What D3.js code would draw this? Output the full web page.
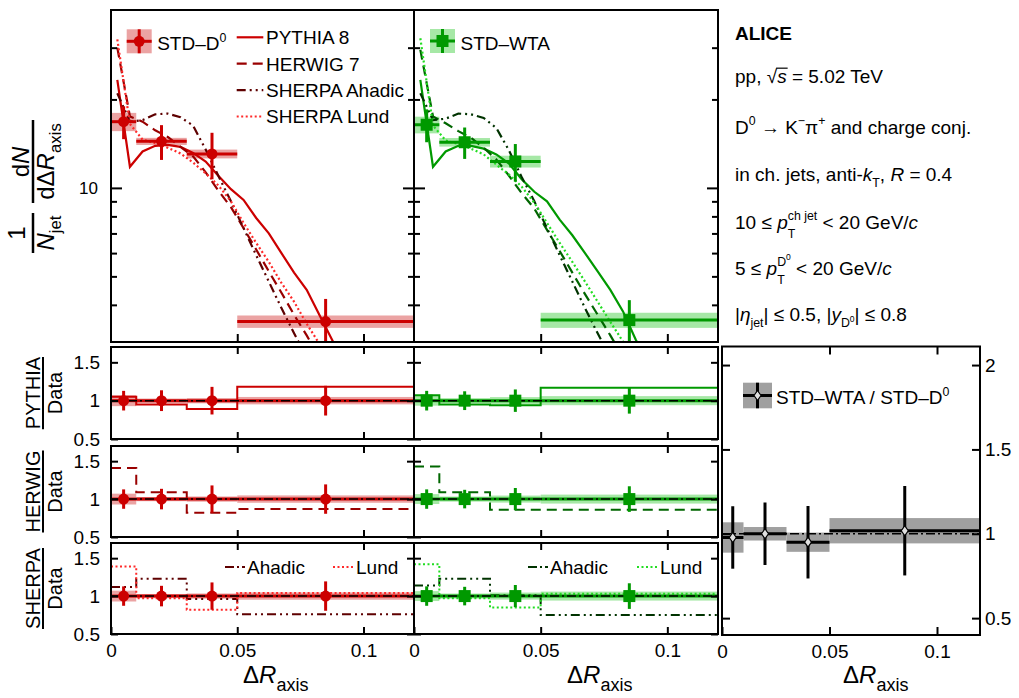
<!DOCTYPE html>
<html lang="en">
<head>
<meta charset="UTF-8">
<title>D0 jet axis differences</title>
<script src="https://cdnjs.cloudflare.com/ajax/libs/d3/7.8.5/d3.min.js"></script>
<style>
  body { margin: 0; background: #fff; }
  svg { font-family: "Liberation Sans", Arial, Helvetica, sans-serif; }
  svg text { white-space: pre; }
</style>
</head>
<body>
<div id="chart"></div>
<script>
// ---- data ----
var binEdges = [0, 0.01, 0.03, 0.05, 0.12];
var binCenters = [0.005, 0.02, 0.04, 0.085];

var d0Val = [16.8, 14.4, 13.05, 3.51];
var d0Stat = [2.15, 1.95, 2.35, 0.68];
var d0Sys = [1.2, 0.4, 0.45, 0.17];

var wtaVal = [16.4, 14.3, 12.3, 3.55];
var wtaStat = [2.1, 1.75, 1.8, 0.6];
var wtaSys = [1.07, 0.48, 0.57, 0.21];

var mcX = [0.0025, 0.0075, 0.0125, 0.0175, 0.0225, 0.0275, 0.0325, 0.0375, 0.0425, 0.0475,
           0.0525, 0.0575, 0.0625, 0.0675, 0.0725, 0.0775, 0.0825, 0.0875, 0.0925];

var pythiaD0 = [23.3, 11.8, 13.3, 13.9, 14.0, 13.8, 13.15, 12.3, 11.0, 9.9, 9.1, 7.9, 7.0, 6.0, 5.15, 4.5, 3.7, 3.05, 2.5];
var herwigD0 = [30.0, 17.5, 16.8, 15.7, 14.9, 13.8, 12.8, 11.3, 9.8, 8.6, 7.3, 6.17, 5.2, 4.4, 3.7, 3.15, 2.65, 2.3, 2.0];
var ahadicD0 = [21.0, 16.8, 17.0, 17.8, 17.9, 17.4, 16.3, 13.5, 11.0, 9.0, 7.3, 5.9, 4.8, 3.9, 3.2, 2.65, 2.2, 1.8, 1.5];
var lundD0 = [32.0, 16.5, 14.6, 14.2, 13.7, 13.1, 12.2, 11.2, 10.2, 9.0, 7.6, 6.5, 5.6, 4.75, 4.1, 3.45, 2.95, 2.5, 2.1];

var pythiaWTA = [23.3, 11.8, 13.3, 13.9, 13.9, 13.6, 13.0, 12.1, 10.7, 9.7, 9.0, 7.8, 6.9, 6.0, 5.2, 4.5, 3.8, 3.05, 2.5];
var herwigWTA = [29.5, 17.5, 16.6, 15.6, 14.8, 13.7, 12.5, 11.0, 9.6, 8.5, 7.2, 6.1, 5.15, 4.35, 3.7, 3.15, 2.65, 2.3, 2.0];
var ahadicWTA = [21.0, 17.0, 17.2, 17.9, 17.8, 17.3, 16.0, 13.4, 10.9, 9.0, 7.3, 5.9, 4.8, 3.9, 3.2, 2.65, 2.2, 1.8, 1.5];
var lundWTA = [32.3, 16.3, 14.5, 14.1, 13.6, 13.0, 12.0, 11.1, 10.1, 8.9, 7.6, 6.5, 5.6, 4.8, 4.1, 3.5, 3.0, 2.5, 2.1];

// MC / data ratios per data bin
var pythiaRatioD0 = [1.05, 0.95, 0.89, 1.18];
var herwigRatioD0 = [1.41, 1.09, 0.82, 0.87];
var ahadicRatioD0 = [1.12, 1.23, 0.96, 0.76];
var lundRatioD0 = [1.39, 0.97, 0.82, 1.04];
var pythiaRatioWTA = [1.07, 0.95, 0.94, 1.17];
var herwigRatioWTA = [1.43, 1.09, 0.86, 0.86];
var ahadicRatioWTA = [1.14, 1.23, 1.01, 0.75];
var lundRatioWTA = [1.42, 0.97, 0.85, 1.03];

// STD-WTA / STD-D0
var wtaOverD0 = [0.978, 1.0, 0.95, 1.018];
var wtaOverD0Stat = [0.185, 0.185, 0.215, 0.265];
var wtaOverD0Sys = [0.09, 0.04, 0.057, 0.075];

var xTicks = [0, 0.05, 0.1];
var ratioTicks = [0.5, 1, 1.5];
var rightTicks = [0.5, 1, 1.5, 2];
var logMinor = [4, 5, 6, 7, 8, 9, 20, 30];

// ---- styles ----
var red = "#cc0000", redBox = "#eba3a3", redHerwig = "#990000", redAhadic = "#5e0000", redLund = "#ff2a2a";
var green = "#009900", greenBox = "#a6e8a6", greenHerwig = "#006600", greenAhadic = "#003300", greenLund = "#22dd22";
var dashHerwig = "10,6", dashAhadic = "9,4,2,4,2,4", dashLund = "2,2.5", dashOne = "9,3,2,3";

var W = 1019, H = 698;
var svg = d3.select("#chart").append("svg").attr("width", W).attr("height", H);
var defs = svg.append("defs");

var xL = d3.scaleLinear().domain([0, 0.12]).range([111, 414]);
var xM = d3.scaleLinear().domain([0, 0.12]).range([414, 718]);
var xR = d3.scaleLinear().domain([0, 0.12]).range([722, 980]);
var yTop = d3.scaleLog().domain([2.99, 40.3]).range([342, 10]);
var rows = [[347, 439], [446, 537], [543, 634]];
var yRows = rows.map(function(r) { return d3.scaleLinear().domain([0.5, 1.7]).range([r[1], r[0]]); });
var yRight = d3.scaleLinear().domain([0.4, 2.11]).range([635, 346.5]);

function addClip(id, x0, x1, y0, y1) {
  defs.append("clipPath").attr("id", id).append("rect")
    .attr("x", x0).attr("y", y0).attr("width", x1 - x0).attr("height", y1 - y0);
}

function frame(x0, x1, y0, y1) {
  svg.append("rect").attr("x", x0).attr("y", y0).attr("width", x1 - x0).attr("height", y1 - y0)
    .attr("fill", "none").attr("stroke", "#000").attr("stroke-width", 2);
}

// text built from pieces (italic, sub/superscripts, stacked scripts)
function rich(g, x, y, size, parts) {
  var cx = x, mark = x, widest = x;
  parts.forEach(function(p) {
    if (p.mark) { mark = cx; widest = cx; return; }
    if (p.back) { widest = Math.max(widest, cx); cx = mark; return; }
    if (p.join) { cx = Math.max(cx, widest); return; }
    var fs = size * (p.sc || 1);
    var t = g.append("text").attr("x", cx).attr("y", y - (p.up || 0) * size)
      .attr("xml:space", "preserve")
      .attr("font-size", fs)
      .attr("font-style", p.it ? "italic" : null)
      .attr("font-weight", p.b ? "bold" : null)
      .text(p.t);
    var w = t.node().getComputedTextLength();
    if (p.over) {
      g.append("line").attr("x1", cx - 1).attr("x2", cx + w + 1)
        .attr("y1", y - 0.78 * size).attr("y2", y - 0.78 * size)
        .attr("stroke", "#000").attr("stroke-width", 1.2);
    }
    cx += w + (p.dx || 0);
  });
  return cx - x;
}
function sub(t, o) { return Object.assign({t: t, sc: 0.65, up: -0.3}, o || {}); }
function sup(t, o) { return Object.assign({t: t, sc: 0.65, up: 0.45}, o || {}); }

function marker(g, type, cx, cy, color) {
  if (type === "circle") {
    g.append("circle").attr("cx", cx).attr("cy", cy).attr("r", 5.5).attr("fill", color);
  } else if (type === "square") {
    g.append("rect").attr("x", cx - 6).attr("y", cy - 6).attr("width", 12).attr("height", 12).attr("fill", color);
  } else {
    g.append("path").attr("d", "M" + cx + "," + (cy - 5) + "L" + (cx + 3.5) + "," + cy + "L" + cx + "," + (cy + 5) + "L" + (cx - 3.5) + "," + cy + "Z")
      .attr("fill", "#e0e0e0").attr("stroke", "#000").attr("stroke-width", 1.2);
  }
}

function drawBoxes(g, x, y, vals, sys, fill) {
  g.selectAll(null).data(d3.range(vals.length)).enter().append("rect")
    .attr("x", function(i) { return x(binEdges[i]); })
    .attr("width", function(i) { return x(binEdges[i + 1]) - x(binEdges[i]); })
    .attr("y", function(i) { return y(vals[i] + sys[i]); })
    .attr("height", function(i) { return y(vals[i] - sys[i]) - y(vals[i] + sys[i]); })
    .attr("fill", fill);
}

function drawBars(g, x, y, vals, stat, color) {
  var idx = d3.range(vals.length);
  g.selectAll(null).data(idx).enter().append("line")
    .attr("x1", function(i) { return x(binEdges[i]); })
    .attr("x2", function(i) { return x(binEdges[i + 1]); })
    .attr("y1", function(i) { return y(vals[i]); })
    .attr("y2", function(i) { return y(vals[i]); })
    .attr("stroke", color).attr("stroke-width", 3);
  g.selectAll(null).data(idx).enter().append("line")
    .attr("x1", function(i) { return x(binCenters[i]); })
    .attr("x2", function(i) { return x(binCenters[i]); })
    .attr("y1", function(i) { return y(vals[i] + stat[i]); })
    .attr("y2", function(i) { return y(Math.max(vals[i] - stat[i], 0.01)); })
    .attr("stroke", color).attr("stroke-width", 3);
}

function drawMarkers(g, x, y, vals, type, color) {
  vals.forEach(function(v, i) { marker(g, type, x(binCenters[i]), y(v), color); });
}

function styleAxis(g, size) {
  g.select(".domain").remove();
  g.attr("font-family", null).attr("font-size", size || 19);
  g.selectAll(".tick line").attr("stroke-width", 2);
}

function oneLine(g, x, y) {
  g.append("line").attr("x1", x.range()[0]).attr("x2", x.range()[1])
    .attr("y1", y(1)).attr("y2", y(1))
    .attr("stroke", "#000").attr("stroke-width", 1.5).attr("stroke-dasharray", dashOne);
}

// ---- columns ----
var cols = [
  {
    id: "d0", x: xL, val: d0Val, stat: d0Stat, sys: d0Sys, color: red, box: redBox, type: "circle",
    models: [
      {v: pythiaD0, color: red, dash: null},
      {v: herwigD0, color: redHerwig, dash: dashHerwig},
      {v: ahadicD0, color: redAhadic, dash: dashAhadic},
      {v: lundD0, color: redLund, dash: dashLund}
    ],
    ratios: [
      [{r: pythiaRatioD0, color: red, dash: null}],
      [{r: herwigRatioD0, color: redHerwig, dash: dashHerwig}],
      [{r: ahadicRatioD0, color: redAhadic, dash: dashAhadic}, {r: lundRatioD0, color: redLund, dash: dashLund}]
    ],
    yLabels: true, sherpaLeg: [225, 333], ahadic: redAhadic, lund: redLund, titleX: 243
  },
  {
    id: "wta", x: xM, val: wtaVal, stat: wtaStat, sys: wtaSys, color: green, box: greenBox, type: "square",
    models: [
      {v: pythiaWTA, color: green, dash: null},
      {v: herwigWTA, color: greenHerwig, dash: dashHerwig},
      {v: ahadicWTA, color: greenAhadic, dash: dashAhadic},
      {v: lundWTA, color: greenLund, dash: dashLund}
    ],
    ratios: [
      [{r: pythiaRatioWTA, color: green, dash: null}],
      [{r: herwigRatioWTA, color: greenHerwig, dash: dashHerwig}],
      [{r: ahadicRatioWTA, color: greenAhadic, dash: dashAhadic}, {r: lundRatioWTA, color: greenLund, dash: dashLund}]
    ],
    yLabels: false, sherpaLeg: [528, 637], ahadic: greenAhadic, lund: greenLund, titleX: 567
  }
];

var mcLine = function(x) {
  return d3.line().x(function(d) { return x(d[0]); }).y(function(d) { return yTop(d[1]); });
};

cols.forEach(function(c) {
  var x0 = c.x.range()[0], x1 = c.x.range()[1];

  // top distribution panel
  addClip("top-" + c.id, x0, x1, 10, 342);
  var g = svg.append("g").attr("clip-path", "url(#top-" + c.id + ")");
  drawBoxes(g, c.x, yTop, c.val, c.sys, c.box);
  c.models.forEach(function(m) {
    g.append("path").datum(mcX.map(function(xv, i) { return [xv, m.v[i]]; }))
      .attr("d", mcLine(c.x))
      .attr("fill", "none").attr("stroke", m.color).attr("stroke-width", 2.2)
      .attr("stroke-dasharray", m.dash);
  });
  drawBars(g, c.x, yTop, c.val, c.stat, c.color);
  drawMarkers(g, c.x, yTop, c.val, c.type, c.color);

  svg.append("g").attr("transform", "translate(" + x0 + ",0)")
    .call(d3.axisLeft(yTop).tickValues(logMinor.concat([10])).tickSize(-6).tickPadding(13)
      .tickFormat(function(d) { return c.yLabels && d === 10 ? "10" : ""; }))
    .call(function(a) { styleAxis(a, 17); a.selectAll(".tick line").attr("x2", function(d) { return d === 10 ? 11 : 6; }); });
  svg.append("g").attr("transform", "translate(" + x1 + ",0)")
    .call(d3.axisRight(yTop).tickValues(logMinor.concat([10])).tickSize(-6).tickFormat(""))
    .call(function(a) { styleAxis(a); a.selectAll(".tick line").attr("x2", function(d) { return d === 10 ? -11 : -6; }); });
  svg.append("g").attr("transform", "translate(0,342)")
    .call(d3.axisBottom(c.x).tickValues([0.05, 0.1]).tickSize(-8).tickFormat(""))
    .call(styleAxis);
  frame(x0, x1, 10, 342);

  // ratio panels
  var relStat = c.stat.map(function(s, i) { return s / c.val[i]; });
  var relSys = c.sys.map(function(s, i) { return s / c.val[i]; });
  var ones = c.val.map(function() { return 1; });
  c.ratios.forEach(function(models, k) {
    var y = yRows[k], r = rows[k];
    addClip("r" + k + "-" + c.id, x0, x1, r[0], r[1]);
    var rg = svg.append("g").attr("clip-path", "url(#r" + k + "-" + c.id + ")");
    drawBoxes(rg, c.x, y, ones, relSys, c.box);
    models.forEach(function(m) {
      var pts = binEdges.map(function(e, i) { return [e, m.r[Math.min(i, m.r.length - 1)]]; });
      rg.append("path").datum(pts)
        .attr("d", d3.line().curve(d3.curveStepAfter).x(function(d) { return c.x(d[0]); }).y(function(d) { return y(d[1]); }))
        .attr("fill", "none").attr("stroke", m.color).attr("stroke-width", 2)
        .attr("stroke-dasharray", m.dash);
    });
    drawBars(rg, c.x, y, ones, relStat, c.color);
    oneLine(rg, c.x, y);
    drawMarkers(rg, c.x, y, ones, c.type, c.color);

    svg.append("g").attr("transform", "translate(" + x0 + ",0)")
      .call(d3.axisLeft(y).tickValues(ratioTicks).tickSize(-7).tickPadding(11)
        .tickFormat(function(d) { return c.yLabels ? String(d) : ""; }))
      .call(styleAxis);
    svg.append("g").attr("transform", "translate(" + x1 + ",0)")
      .call(d3.axisRight(y).tickValues(ratioTicks).tickSize(-7).tickFormat(""))
      .call(styleAxis);
    svg.append("g").attr("transform", "translate(0," + r[0] + ")")
      .call(d3.axisTop(c.x).tickValues([0.05, 0.1]).tickSize(-7).tickFormat(""))
      .call(styleAxis);
    svg.append("g").attr("transform", "translate(0," + r[1] + ")")
      .call(d3.axisBottom(c.x).tickValues(k === 2 ? xTicks : [0.05, 0.1]).tickSize(-7).tickPadding(10)
        .tickFormat(function(d) { return k === 2 ? String(d) : ""; }))
      .call(styleAxis);
    frame(x0, x1, r[0], r[1]);
  });

  // SHERPA legend inside the ratio panel
  var lx = c.sherpaLeg;
  var lg = svg.append("g");
  lg.append("line").attr("x1", lx[0]).attr("x2", lx[0] + 20).attr("y1", 567).attr("y2", 567)
    .attr("stroke", c.ahadic).attr("stroke-width", 2).attr("stroke-dasharray", "9,3,2,3");
  rich(lg, lx[0] + 22, 574, 19, [{t: "Ahadic"}]);
  lg.append("line").attr("x1", lx[1]).attr("x2", lx[1] + 20).attr("y1", 567).attr("y2", 567)
    .attr("stroke", c.lund).attr("stroke-width", 2).attr("stroke-dasharray", dashLund);
  rich(lg, lx[1] + 23, 574, 19, [{t: "Lund"}]);

  // x axis title
  rich(svg, c.titleX, 683, 24, [{t: "Δ"}, {t: "R", it: true}, sub("axis", {sc: 0.75, up: -0.33})]);
});

// ---- legends top panels ----
function dataLegend(cx, cy, color, box, type, parts) {
  var g = svg.append("g");
  g.append("rect").attr("x", cx - 12.5).attr("y", cy - 12).attr("width", 25).attr("height", 24).attr("fill", box);
  g.append("line").attr("x1", cx - 12.5).attr("x2", cx + 12.5).attr("y1", cy).attr("y2", cy).attr("stroke", color).attr("stroke-width", 3);
  g.append("line").attr("x1", cx).attr("x2", cx).attr("y1", cy - 12).attr("y2", cy + 12).attr("stroke", color).attr("stroke-width", 3);
  marker(g, type, cx, cy, color);
  rich(g, cx + 18, cy + 9, 19, parts);
}
dataLegend(139.2, 41.3, red, redBox, "circle", [{t: "STD–D"}, sup("0", {up: 0.42})]);
dataLegend(442.5, 41, green, greenBox, "square", [{t: "STD–WTA"}]);

var lineLegend = [
  {label: "PYTHIA 8", color: red, dash: null},
  {label: "HERWIG 7", color: redHerwig, dash: dashHerwig},
  {label: "SHERPA Ahadic", color: redAhadic, dash: dashAhadic},
  {label: "SHERPA Lund", color: redLund, dash: dashLund}
];
lineLegend.forEach(function(l, i) {
  var ly = 37.3 + 26.4 * i;
  svg.append("line").attr("x1", 236.7).attr("x2", 263.3).attr("y1", ly).attr("y2", ly)
    .attr("stroke", l.color).attr("stroke-width", 2.2).attr("stroke-dasharray", l.dash);
  rich(svg, 266, ly + 6.8, 19, [{t: l.label}]);
});

// ---- right ratio panel ----
addClip("right", 722, 980, 346.5, 635);
var rgt = svg.append("g").attr("clip-path", "url(#right)");
drawBoxes(rgt, xR, yRight, wtaOverD0, wtaOverD0Sys, "#a0a0a0");
oneLine(rgt, xR, yRight);
drawBars(rgt, xR, yRight, wtaOverD0, wtaOverD0Stat, "#000");
drawMarkers(rgt, xR, yRight, wtaOverD0, "diamond", "#000");
svg.append("g").attr("transform", "translate(722,0)")
  .call(d3.axisLeft(yRight).tickValues(rightTicks).tickSize(-8).tickFormat(""))
  .call(styleAxis);
svg.append("g").attr("transform", "translate(980,0)")
  .call(d3.axisRight(yRight).tickValues(rightTicks).tickSize(-8).tickPadding(5).tickFormat(function(d) { return String(d); }))
  .call(styleAxis);
svg.append("g").attr("transform", "translate(0,346.5)")
  .call(d3.axisTop(xR).tickValues([0.05, 0.1]).tickSize(-8).tickFormat(""))
  .call(styleAxis);
svg.append("g").attr("transform", "translate(0,635)")
  .call(d3.axisBottom(xR).tickValues(xTicks).tickSize(-8).tickPadding(10).tickFormat(function(d) { return String(d); }))
  .call(styleAxis);
frame(722, 980, 346.5, 635);
rich(svg, 843, 683, 24, [{t: "Δ"}, {t: "R", it: true}, sub("axis", {sc: 0.75, up: -0.33})]);

var rl = svg.append("g");
rl.append("rect").attr("x", 743).attr("y", 382.7).attr("width", 29).attr("height", 25.6).attr("fill", "#a0a0a0");
rl.append("line").attr("x1", 743).attr("x2", 772).attr("y1", 395.5).attr("y2", 395.5).attr("stroke", "#000").attr("stroke-width", 3);
rl.append("line").attr("x1", 757.5).attr("x2", 757.5).attr("y1", 382.7).attr("y2", 408.3).attr("stroke", "#000").attr("stroke-width", 3);
marker(rl, "diamond", 757.5, 395.5, "#000");
rich(rl, 776, 403.5, 19, [{t: "STD–WTA / STD–D"}, sup("0", {up: 0.42})]);

// ---- info text ----
var info = svg.append("g");
rich(info, 735, 40, 19, [{t: "ALICE", b: true}]);
rich(info, 735, 83, 19, [{t: "pp, "}, {t: "√"}, {t: "s", it: true, over: true}, {t: " = 5.02 TeV"}]);
rich(info, 735, 134, 19, [{t: "D"}, sup("0"), {t: " → K"}, sup("−"), {t: "π"}, sup("+"), {t: " and charge conj."}]);
rich(info, 735, 181, 19, [{t: "in ch. jets, anti-"}, {t: "k", it: true}, sub("T"), {t: ", "}, {t: "R", it: true}, {t: " = 0.4"}]);
rich(info, 735, 229, 19, [{t: "10 ≤ "}, {t: "p", it: true}, {mark: true}, sub("T", {up: -0.45}), {back: true},
  sup("ch jet", {up: 0.5}), {join: true}, {t: " < 20 GeV/"}, {t: "c", it: true}]);
rich(info, 735, 275, 19, [{t: "5 ≤ "}, {t: "p", it: true}, {mark: true}, sub("T", {up: -0.45}), {back: true},
  sup("D", {up: 0.5}), {t: "0", sc: 0.45, up: 0.8}, {join: true}, {t: " < 20 GeV/"}, {t: "c", it: true}]);
rich(info, 735, 321, 19, [{t: "|"}, {t: "η", it: true}, sub("jet"), {t: "| ≤ 0.5, |"}, {t: "y", it: true},
  sub("D"), {t: "0", sc: 0.45, up: -0.05}, {t: "| ≤ 0.8"}]);

// ---- y axis titles ----
function centered(g, cx, y, size, parts) {
  var s = g.append("g");
  var w = rich(s, 0, y, size, parts);
  s.attr("transform", "translate(" + (cx - w / 2) + ",0)");
  return w;
}
var yt = svg.append("g").attr("transform", "translate(33,253) rotate(-90)");
yt.append("line").attr("x1", 0).attr("x2", 40).attr("y1", 0).attr("y2", 0).attr("stroke", "#000").attr("stroke-width", 2.5);
centered(yt, 20, -8, 24, [{t: "1"}]);
centered(yt, 20, 21, 24, [{t: "N", it: true}, sub("jet", {sc: 0.7, up: -0.3})]);
yt.append("line").attr("x1", 50).attr("x2", 133).attr("y1", 0).attr("y2", 0).attr("stroke", "#000").attr("stroke-width", 2.5);
centered(yt, 91, -4, 24, [{t: "d"}, {t: "N", it: true}]);
centered(yt, 91.5, 21, 24, [{t: "dΔ"}, {t: "R", it: true}, sub("axis", {sc: 0.7, up: -0.3})]);

["PYTHIA", "HERWIG", "SHERPA"].forEach(function(name, k) {
  var cy = (rows[k][0] + rows[k][1]) / 2;
  var g = svg.append("g").attr("transform", "translate(43," + cy + ") rotate(-90)");
  var a = g.append("text").attr("text-anchor", "middle").attr("y", -3).attr("font-size", 20).text(name);
  var b = g.append("text").attr("text-anchor", "middle").attr("y", 19).attr("font-size", 20).text("Data");
  var w = Math.max(a.node().getComputedTextLength(), b.node().getComputedTextLength());
  g.append("line").attr("x1", -w / 2).attr("x2", w / 2).attr("y1", 0).attr("y2", 0)
    .attr("stroke", "#000").attr("stroke-width", 2);
});
</script>
</body>
</html>
